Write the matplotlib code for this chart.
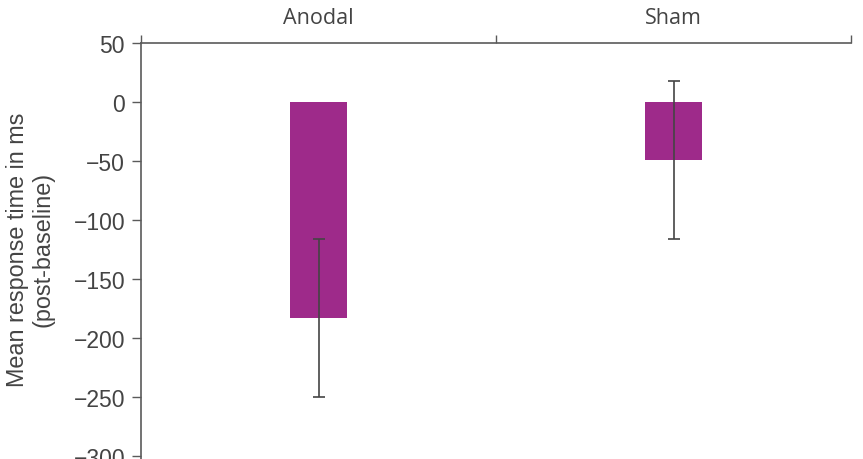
import numpy as np
import matplotlib.pyplot as plt

# data
groups = ['Anodal', 'Sham']
mean_rt = [-183, -49]
err_rt = [67, 67]
yticks = [50, 0, -50, -100, -150, -200, -250, -300]

bar_col = '#9e2a8a'
axis_col = '#5a5a5a'

fig = plt.figure(figsize=(8.63, 4.60), dpi=100)
ax = fig.add_axes([0.1634, 0.0, 0.8227, 0.9043])

x = np.arange(len(groups))
ax.bar(x, mean_rt, 0.163, color=bar_col, zorder=2)
ax.errorbar(x, mean_rt, yerr=err_rt, fmt='none', ecolor='#444444',
            elinewidth=1.2, capsize=4, capthick=1.2, zorder=3)

ax.set_xlim(-0.5, 1.5)
ax.set_ylim(-302.5, 50)

# y axis
ax.set_yticks(yticks)
ax.set_yticklabels([str(v).replace('-', '\u2212') for v in yticks],
                   fontsize=16.5, color='#444444', family='Liberation Sans')
ax.tick_params(axis='y', direction='out', length=6.5, width=1, color=axis_col, pad=5)
ax.set_ylabel('Mean response time in ms\n(post-baseline)', fontsize=16.8,
              color='#444444', family='Liberation Sans', linespacing=1.15)
ax.yaxis.set_label_coords(-0.122, 0.505)

# top category axis
ax.xaxis.tick_top()
ax.set_xticks([-0.5, 0.5, 1.5])
ax.set_xticklabels([])
ax.set_xticks(x, minor=True)
ax.set_xticklabels(groups, minor=True, fontsize=15.5, color='#444444', family='Open Sans')
ax.tick_params(axis='x', which='major', direction='out', length=6, width=1, color=axis_col)
ax.tick_params(axis='x', which='minor', length=0, pad=11)

for side in ['bottom', 'right']:
    ax.spines[side].set_visible(False)
for side in ['top', 'left']:
    ax.spines[side].set_color(axis_col)
    ax.spines[side].set_linewidth(1.2)

fig.savefig('out.png', dpi=100)
